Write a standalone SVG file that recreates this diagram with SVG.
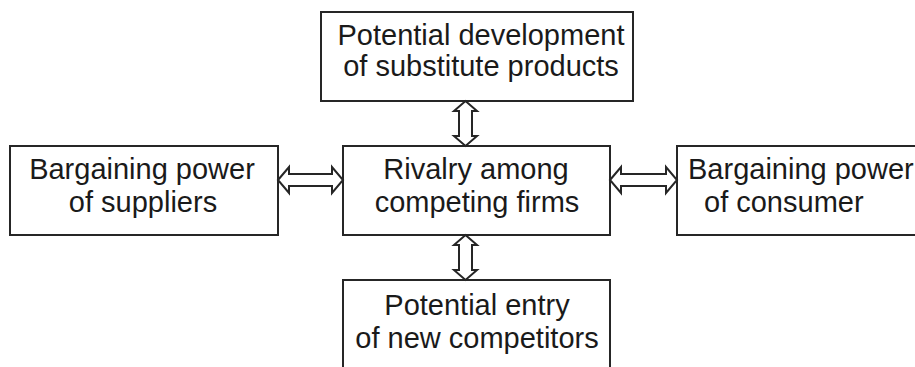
<svg xmlns="http://www.w3.org/2000/svg" width="915" height="367" viewBox="0 0 915 367">
  <style>
    .box { fill: #ffffff; stroke: #262626; stroke-width: 2; }
    .arrow { fill: #ffffff; stroke: #262626; stroke-width: 2; stroke-linejoin: miter; }
    text { font-family: "Liberation Sans", Arial, sans-serif; font-size: 29px; fill: #1a1a1a; }
    .c { text-anchor: middle; }
  </style>
  <rect width="915" height="367" fill="#ffffff"/>

  <g id="substitutes">
    <rect class="box" x="321" y="12" width="312" height="89"/>
    <text class="c" x="481" y="45">Potential development</text>
    <text class="c" x="481" y="76">of substitute products</text>
  </g>

  <g id="suppliers">
    <rect class="box" x="10" y="146" width="268" height="89"/>
    <text class="c" x="142" y="179">Bargaining power</text>
    <text class="c" x="143" y="212">of suppliers</text>
  </g>

  <g id="rivalry">
    <rect class="box" x="343" y="146" width="267" height="89"/>
    <text class="c" x="476" y="179">Rivalry among</text>
    <text class="c" x="477" y="212">competing firms</text>
  </g>

  <g id="consumer">
    <rect class="box" x="677" y="146" width="260" height="89"/>
    <text x="688" y="179">Bargaining power</text>
    <text x="704" y="212">of consumer</text>
  </g>

  <g id="new-entrants">
    <rect class="box" x="343" y="280" width="267" height="100"/>
    <text class="c" x="477" y="315">Potential entry</text>
    <text class="c" x="477" y="348">of new competitors</text>
  </g>

  <g id="connectors">
    <!-- suppliers <-> rivalry -->
    <polygon class="arrow" points="278,180 289,167 289,174 332,174 332,167 343,180 332,193 332,186 289,186 289,193"/>
    <!-- rivalry <-> consumer -->
    <polygon class="arrow" points="610,180 621,167 621,174 666,174 666,167 677,180 666,193 666,186 621,186 621,193"/>
    <!-- substitutes <-> rivalry -->
    <polygon class="arrow" points="465.5,101 477,111 472,111 472,136 477,136 465.5,146 454,136 459,136 459,111 454,111"/>
    <!-- rivalry <-> new entrants -->
    <polygon class="arrow" points="465.5,235 477,245 472,245 472,270 477,270 465.5,280 454,270 459,270 459,245 454,245"/>
  </g>
</svg>
